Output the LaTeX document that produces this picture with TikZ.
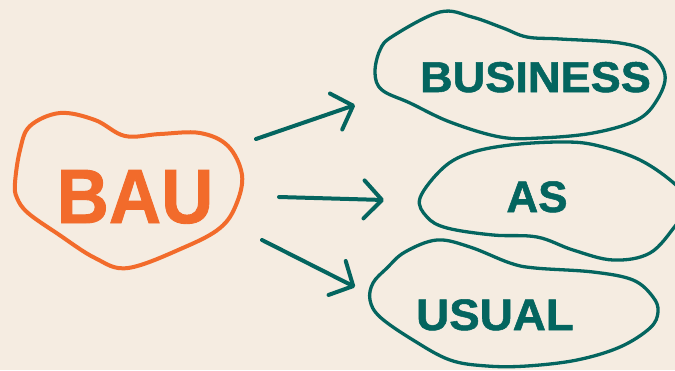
\documentclass[tikz,border=0pt]{standalone}
\usepackage{fontspec}
\setmainfont{Liberation Sans}
\newfontfamily\heavyfont[FakeBold=1.2]{Liberation Sans Bold}
\usetikzlibrary{arrows.meta}
\definecolor{bgc}{HTML}{F5ECE1}
\definecolor{orng}{HTML}{F26B2B}
\definecolor{tealc}{HTML}{04655F}
\tikzset{
  blobo/.style={draw=orng, line width=4pt, line join=round},
  blobt/.style={draw=tealc, line width=3.3pt, line join=round},
  arr/.style={draw=tealc, line width=4pt, line cap=round,
    -{Straight Barb[length=18pt,width=38pt,line cap=round,line join=round]}},
  wordo/.style={text=orng, inner sep=0pt, anchor=base, font=\heavyfont\fontsize{77}{80}\selectfont},
  wordt/.style={text=tealc, inner sep=0pt, anchor=base, font=\heavyfont\fontsize{44}{48}\selectfont},
}
\begin{document}
\begin{tikzpicture}[x=1pt,y=-1pt]
\fill[bgc] (0,0) rectangle (675,370);
\useasboundingbox (0,0) rectangle (675,370);
\begin{scope}
\clip (0,0) rectangle (675,370);
% BAU blob
\draw[blobo] plot[smooth cycle, tension=0.6] coordinates {
 (15,183) (20,150) (30,126) (60,113) (95,120) (125,136) (160,134) (200,133)
 (228,146) (242,175) (236,205) (220,228) (185,247) (128,268) (95,258) (58,234) (28,213) (17,198)};
% BUSINESS blob
\draw[blobt] plot[smooth cycle, tension=0.6] coordinates {
 (393,36) (440,12) (472,17) (503,28) (527,37) (560,39) (620,43) (650,53)
 (665,75) (657,100) (637,120) (593,133) (540,138) (500,137) (450,122) (410,103)
 (382,90) (375,73) (380,50)};
% AS blob
\draw[blobt] plot[smooth cycle, tension=0.6] coordinates {
 (443,168) (470,153) (510,145) (560,142) (595,145) (640,160) (676,185)
 (690,205) (676,225) (650,253) (613,260) (573,250) (537,237) (493,235)
 (447,228) (427,217) (420,198)};
% USUAL blob
\draw[blobt] plot[smooth cycle, tension=0.6] coordinates {
 (387,268) (405,252) (437,240) (470,247) (510,263) (535,268) (593,272)
 (633,280) (653,297) (658,312) (650,328) (620,347) (577,360) (527,366)
 (487,366) (450,360) (413,340) (380,317) (370,300) (373,283)};
\end{scope}
% words
\node[wordo] (bau) at (135,223) {\scalebox{0.94}[1]{BAU}};
\node[wordt] (business) at (535.5,92) {\scalebox{1.05}[1]{\fontsize{43}{46}\selectfont BUSINESS}};
\node[wordt] (as) at (537,212) {AS};
\node[wordt] (usual) at (495,330) {\scalebox{1.04}[1]{USUAL}};
% arrows
\coordinate (a1s) at (256,139); \coordinate (a1e) at (355,105);
\coordinate (a2s) at (279,197); \coordinate (a2e) at (384,200);
\coordinate (a3s) at (262,240); \coordinate (a3e) at (355,287);
\draw[arr] (a1s) -- (a1e);
\draw[arr] (a2s) -- (a2e);
\draw[arr] (a3s) -- (a3e);
\end{tikzpicture}
\end{document}
